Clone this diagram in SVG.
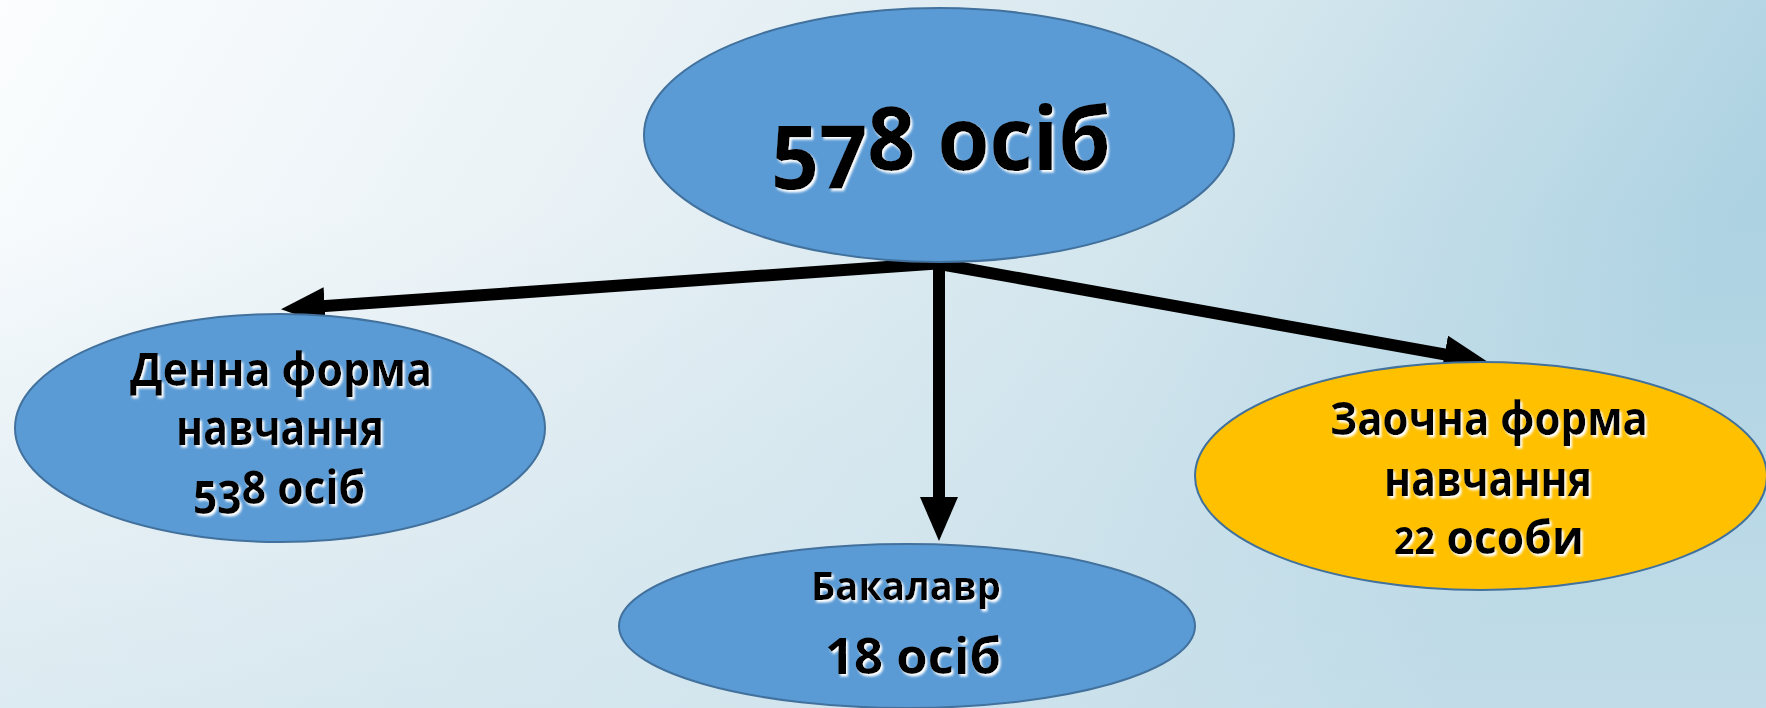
<svg xmlns="http://www.w3.org/2000/svg" width="1766" height="708" viewBox="0 0 1766 708">
<defs>
<linearGradient id="bg" x1="0" y1="0" x2="1" y2="0.25">
<stop offset="0" stop-color="#fbfdfe"/>
<stop offset="0.35" stop-color="#eaf2f6"/>
<stop offset="0.7" stop-color="#d2e5ed"/>
<stop offset="1" stop-color="#add2e2"/>
</linearGradient>
<linearGradient id="bg2" x1="0" y1="0" x2="0" y2="1">
<stop offset="0.3" stop-color="#cfe3ec" stop-opacity="0"/>
<stop offset="1" stop-color="#cfe3ec" stop-opacity="0.6"/>
</linearGradient>
<filter id="glow" x="-10%" y="-20%" width="120%" height="140%">
<feDropShadow dx="2" dy="2.5" stdDeviation="1.2" flood-color="#ffffff" flood-opacity="1"/>
</filter>
<marker id="ah" viewBox="0 0 44 38" markerUnits="userSpaceOnUse" markerWidth="44" markerHeight="38" refX="14" refY="19" orient="auto">
<path d="M0,0 L44,19 L0,38 z" fill="#000"/>
</marker>
<style>
.node ellipse{stroke:#41719c;stroke-width:2}
.blue{fill:#5b9bd5}
.gold{fill:#ffc000}
text{font-family:"Open Sans",Lato,"Liberation Sans",sans-serif;font-weight:700;fill:#000;text-anchor:middle;filter:url(#glow)}
.conn line{stroke:#000;stroke-width:12;fill:none}
</style>
</defs>
<rect width="1766" height="708" fill="url(#bg)"/>
<rect width="1766" height="708" fill="url(#bg2)"/>
<g id="connectors" class="conn">
<line x1="944" y1="263" x2="310.9" y2="307.1" marker-end="url(#ah)"/>
<line x1="934" y1="263" x2="1458.4" y2="356.8" marker-end="url(#ah)"/>
<line x1="939" y1="262" x2="939" y2="511" marker-end="url(#ah)"/>
</g>
<g id="node-total" class="node">
<ellipse class="blue" cx="939" cy="135" rx="295" ry="127"/>
<text x="941" y="170" font-size="88" textLength="340" lengthAdjust="spacingAndGlyphs"><tspan dy="19">57</tspan><tspan dy="-19">8 осіб</tspan></text>
</g>
<g id="node-day" class="node">
<ellipse class="blue" cx="280" cy="428" rx="265" ry="114"/>
<text x="281" y="386" font-size="46" textLength="302" lengthAdjust="spacingAndGlyphs">Денна форма</text>
<text x="280" y="445" font-size="48" textLength="208" lengthAdjust="spacingAndGlyphs">навчання</text>
<text x="279" y="504" font-size="46" textLength="172" lengthAdjust="spacingAndGlyphs"><tspan dy="10">53</tspan><tspan dy="-10">8 осіб</tspan></text>
</g>
<g id="node-bachelor" class="node">
<ellipse class="blue" cx="907" cy="626" rx="288" ry="82"/>
<text x="906" y="600" font-size="39" textLength="190" lengthAdjust="spacingAndGlyphs">Бакалавр</text>
<text x="913" y="674" font-size="50" textLength="176" lengthAdjust="spacingAndGlyphs">18 осіб</text>
</g>
<g id="node-extramural" class="node">
<ellipse class="gold" cx="1481" cy="476" rx="286" ry="114"/>
<text x="1489" y="435" font-size="46" textLength="318" lengthAdjust="spacingAndGlyphs">Заочна форма</text>
<text x="1488" y="496" font-size="48" textLength="208" lengthAdjust="spacingAndGlyphs">навчання</text>
<text x="1489" y="554" font-size="46" textLength="190" lengthAdjust="spacingAndGlyphs"><tspan font-size="37">22</tspan> особи</text>
</g>
</svg>
